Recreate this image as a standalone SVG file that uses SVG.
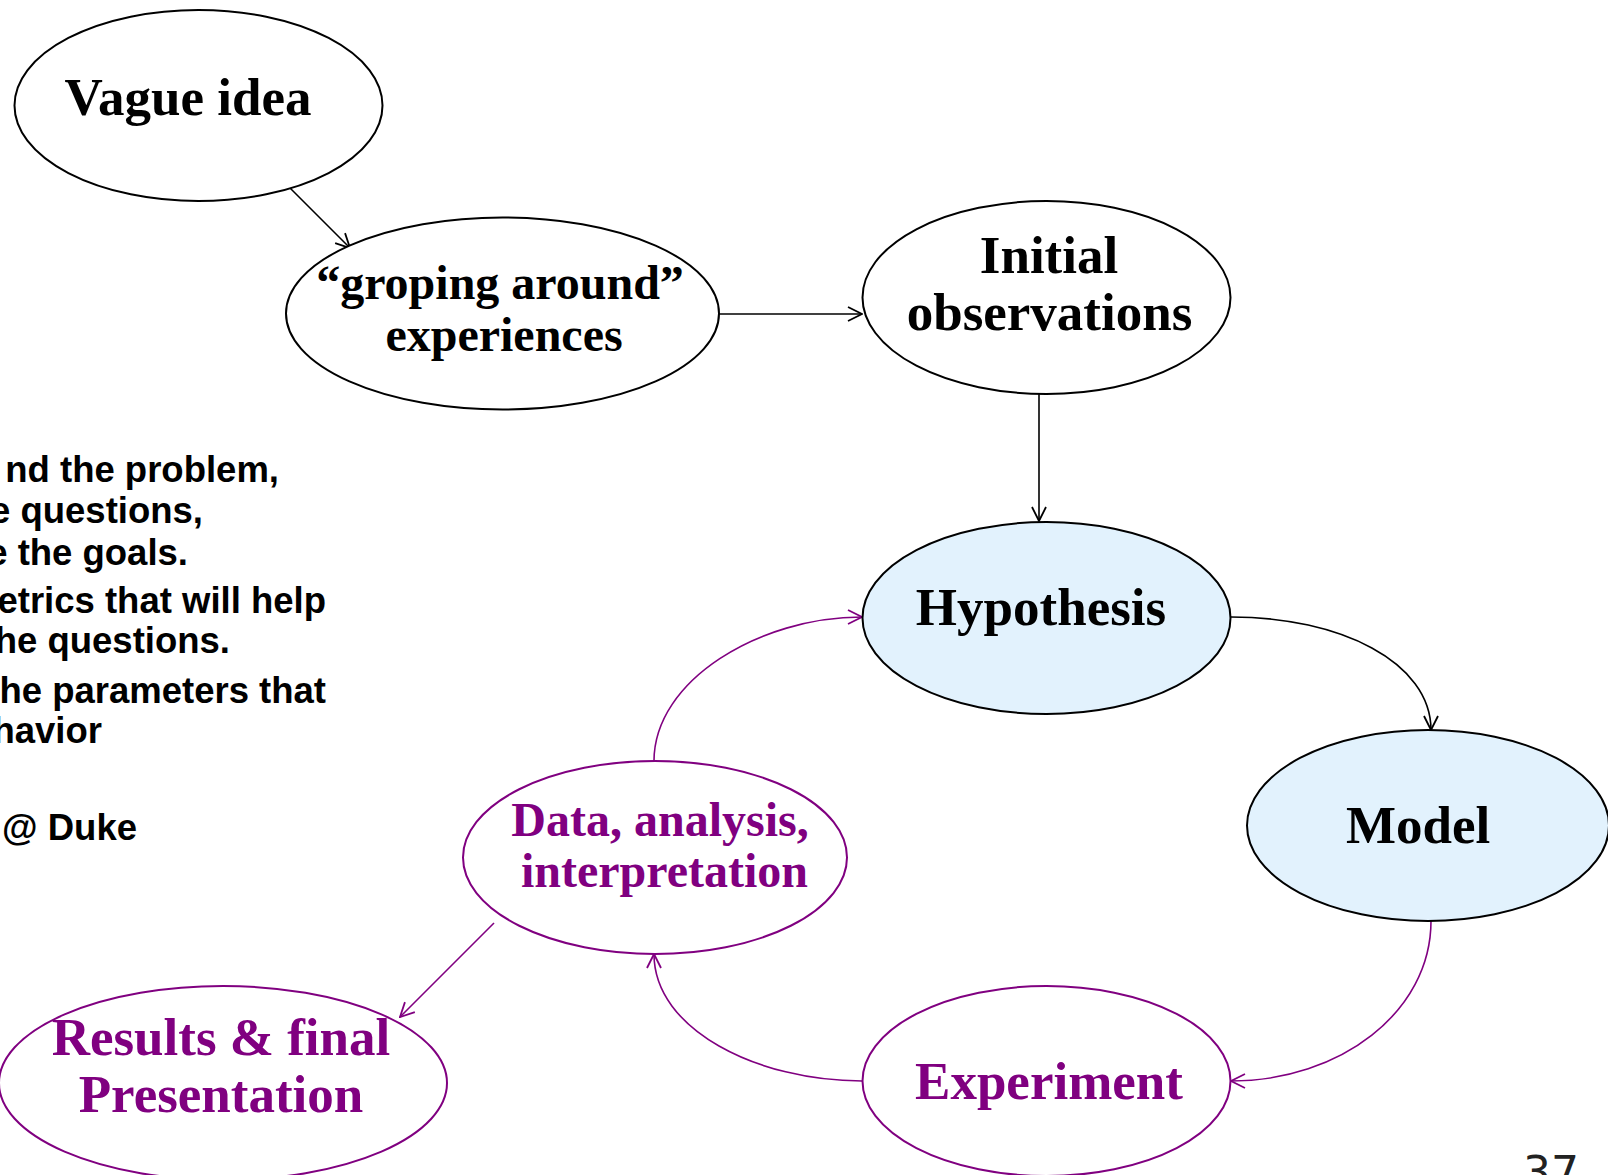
<svg xmlns="http://www.w3.org/2000/svg" width="1608" height="1175" viewBox="0 0 1608 1175">
  <defs>
    <marker id="arrow-black" viewBox="0 0 16 16" refX="15" refY="8" markerWidth="16" markerHeight="16" markerUnits="userSpaceOnUse" orient="auto">
      <path d="M1,1 L15,8 L1,15" fill="none" stroke="#000" stroke-width="1.8"/>
    </marker>
    <marker id="arrow-purple" viewBox="0 0 16 16" refX="15" refY="8" markerWidth="16" markerHeight="16" markerUnits="userSpaceOnUse" orient="auto">
      <path d="M1,1 L15,8 L1,15" fill="none" stroke="#800080" stroke-width="1.8"/>
    </marker>
    <style>
      .node-black { fill: #fff; stroke: #000; stroke-width: 2; }
      .node-blue { fill: #E2F2FD; stroke: #000; stroke-width: 2; }
      .node-purple { fill: #fff; stroke: #800080; stroke-width: 2; }
      .label { font-family: "Liberation Serif", "Times New Roman", serif; font-weight: bold; text-anchor: middle; }
      .label-black { fill: #000; }
      .label-purple { fill: #800080; }
      .edge-black { fill: none; stroke: #000; stroke-width: 1.6; marker-end: url(#arrow-black); }
      .edge-purple { fill: none; stroke: #800080; stroke-width: 1.6; marker-end: url(#arrow-purple); }
      .side { font-family: "Liberation Sans", Arial, sans-serif; font-weight: bold; font-size: 36.5px; fill: #000; text-anchor: end; }
      .page { font-family: "DejaVu Sans", "Liberation Sans", sans-serif; font-size: 44px; fill: #222; }
    </style>
  </defs>

  <rect width="1608" height="1175" fill="#fff"/>

  <!-- side notes, running off the left edge -->
  <g id="side-notes">
    <text class="side" x="279" y="482">nd the problem,</text>
    <text class="side" x="203" y="523">e questions,</text>
    <text class="side" x="188" y="565">e the goals.</text>
    <text class="side" x="326" y="613">etrics that will help</text>
    <text class="side" x="230" y="653">he questions.</text>
    <text class="side" x="326" y="703">he parameters that</text>
    <text class="side" x="102" y="743">havior</text>
    <text class="side" x="137" y="840">@ Duke</text>
  </g>

  <!-- connectors -->
  <g id="connectors">
    <path class="edge-black" d="M288,186 L350,248"/>
    <path class="edge-black" d="M719,314 L862,314"/>
    <path class="edge-black" d="M1039,394 L1039,521"/>
    <path class="edge-black" d="M1231,617 C1340,617 1431,662 1431,730"/>
    <path class="edge-purple" d="M1431,921 C1431,1012 1340,1081 1231,1081"/>
    <path class="edge-purple" d="M862,1081 C758,1081 654,1030 654,954"/>
    <path class="edge-purple" d="M654,761 C654,680 760,617 862,617"/>
    <path class="edge-purple" d="M494,923 L400,1017"/>
  </g>

  <g id="node-vague-idea">
    <ellipse class="node-black" cx="198.5" cy="105.5" rx="184" ry="95.5"/>
    <text class="label label-black" x="188" y="115" font-size="53">Vague idea</text>
  </g>

  <g id="node-groping-around">
    <ellipse class="node-black" cx="502.5" cy="313.5" rx="216.5" ry="96"/>
    <text class="label label-black" x="500" y="299" font-size="48">“groping around”</text>
    <text class="label label-black" x="504" y="351" font-size="48">experiences</text>
  </g>

  <g id="node-initial-observations">
    <ellipse class="node-black" cx="1046.5" cy="297.5" rx="184" ry="96.5"/>
    <text class="label label-black" x="1049" y="273" font-size="53">Initial</text>
    <text class="label label-black" x="1049.5" y="330" font-size="53">observations</text>
  </g>

  <g id="node-hypothesis">
    <ellipse class="node-blue" cx="1046.5" cy="618" rx="184" ry="96"/>
    <text class="label label-black" x="1041" y="625" font-size="53">Hypothesis</text>
  </g>

  <g id="node-model">
    <ellipse class="node-blue" cx="1428" cy="825.5" rx="181" ry="95.5"/>
    <text class="label label-black" x="1418" y="843" font-size="53">Model</text>
  </g>

  <g id="node-experiment">
    <ellipse class="node-purple" cx="1046.5" cy="1081" rx="184" ry="95"/>
    <text class="label label-purple" x="1049" y="1099" font-size="53">Experiment</text>
  </g>

  <g id="node-data-analysis">
    <ellipse class="node-purple" cx="655" cy="857.5" rx="192" ry="96.5"/>
    <text class="label label-purple" x="660" y="836" font-size="48">Data, analysis,</text>
    <text class="label label-purple" x="664.5" y="887" font-size="48">interpretation</text>
  </g>

  <g id="node-results">
    <ellipse class="node-purple" cx="223" cy="1083" rx="224" ry="97"/>
    <text class="label label-purple" x="221" y="1055" font-size="53">Results &amp; final</text>
    <text class="label label-purple" x="221" y="1112" font-size="53">Presentation</text>
  </g>

  <!-- page number -->
  <text class="page" x="1523" y="1188">37</text>
</svg>
